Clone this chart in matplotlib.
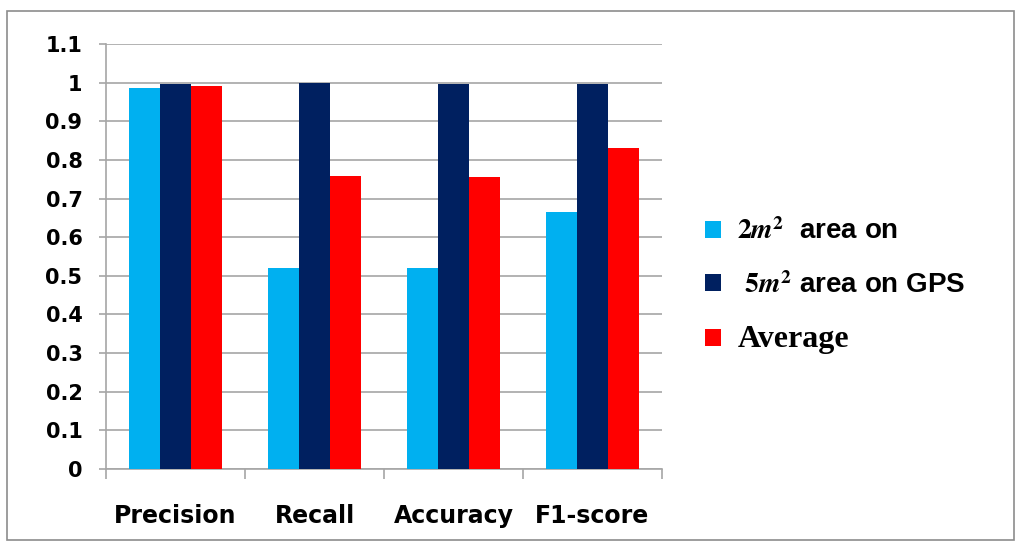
import matplotlib
matplotlib.use("Agg")
import matplotlib.pyplot as plt
import numpy as np
from matplotlib.patches import Rectangle

categories = ["Precision", "Recall", "Accuracy", "F1-score"]
series_names = [r"$\mathbf{2}\mathbfit{m}^{\mathbf{2}}$  area on",
                r" $\mathbf{5}\mathbfit{m}^{\mathbf{2}}$ area on GPS", "Average"]
area2 = [0.986, 0.52, 0.52, 0.665]
area5 = [0.996, 1.0, 0.997, 0.997]
average = [0.991, 0.758, 0.756, 0.831]
yticks = [0, 0.1, 0.2, 0.3, 0.4, 0.5, 0.6, 0.7, 0.8, 0.9, 1, 1.1]
ytick_labels = ["0", "0.1", "0.2", "0.3", "0.4", "0.5", "0.6", "0.7", "0.8", "0.9", "1", "1.1"]
colors = ["#00B0F0", "#002060", "#FF0000"]

plt.rcParams["mathtext.fontset"] = "stix"

fig = plt.figure(figsize=(10.2, 5.42), dpi=100)
fig.patches.append(Rectangle((0.007, 0.004), 0.987, 0.976, transform=fig.transFigure,
                             fill=False, edgecolor="#8c8c8c", linewidth=1.2))
ax = fig.add_axes([0.104, 0.1347, 0.545, 0.7841])

x = np.arange(len(categories))
w = 0.225
for i, (vals, name) in enumerate(zip([area2, area5, average], series_names)):
    ax.bar(x + (i - 1) * w, vals, width=w, color=colors[i], label=name, zorder=3)

ax.set_xlim(-0.5, len(categories) - 0.5)
ax.set_ylim(0, 1.1)
ax.set_yticks(yticks)
ax.set_yticklabels(ytick_labels, fontfamily="DejaVu Sans", fontweight="bold", fontsize=15)
ax.yaxis.grid(True, color="#a6a6a6", linewidth=1.2, zorder=0)
ax.set_axisbelow(True)

ax.set_xticks(np.arange(-0.5, len(categories), 1.0))
ax.set_xticklabels([])
ax.set_xticks(x, minor=True)
ax.set_xticklabels(categories, minor=True, fontfamily="DejaVu Sans",
                   fontweight="bold", fontsize=17)
ax.tick_params(axis="x", which="minor", length=0, pad=25)
ax.tick_params(axis="x", which="major", length=7, color="#a6a6a6", width=1.2)
ax.tick_params(axis="y", length=5, color="#a6a6a6", width=1.2, pad=12)

for s in ["top", "right"]:
    ax.spines[s].set_visible(False)
for s in ["left", "bottom"]:
    ax.spines[s].set_color("#a6a6a6")
    ax.spines[s].set_linewidth(1.2)

leg = ax.legend(loc="center left", bbox_to_anchor=(1.033, 0.43), frameon=False,
                handlelength=0.55, handleheight=0.55, handletextpad=0.6, labelspacing=0.95,
                prop={"family": "Liberation Sans", "weight": "bold", "size": 20})
texts = leg.get_texts()
texts[2].set_fontfamily("Liberation Serif")
texts[2].set_fontsize(23)

fig.savefig("out.png", dpi=100)
